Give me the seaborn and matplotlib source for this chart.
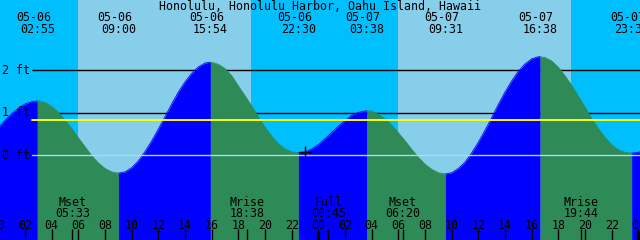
import numpy as np
import pandas as pd
import matplotlib
matplotlib.use("Agg")
import matplotlib.pyplot as plt
import matplotlib.transforms as mtransforms
import seaborn as sns

# ---------------- data ----------------
title = "Honolulu, Honolulu Harbor, Oahu Island, Hawaii"

# tide height (ft), hours since 05-06 00:00
tide_hours = [-1, -0.5, 0, 0.5, 1, 1.5, 2, 2.5, 2.917,
              3, 3.5, 4, 4.5, 5, 5.5, 6, 6.5, 7, 7.5, 8, 8.5, 9,
              9.5, 10, 10.5, 11, 11.5, 12, 12.5, 13, 13.5, 14, 14.5, 15, 15.5, 15.9,
              16, 16.5, 17, 17.5, 18, 18.5, 19, 19.5, 20, 20.5, 21, 21.5, 22, 22.5,
              23, 23.5, 24, 24.5, 25, 25.5, 26, 26.5, 27, 27.633,
              28, 28.5, 29, 29.5, 30, 30.5, 31, 31.5, 32, 32.5, 33, 33.517,
              34, 34.5, 35, 35.5, 36, 36.5, 37, 37.5, 38, 38.5, 39, 39.5, 40, 40.5, 40.633,
              41, 41.5, 42, 42.5, 43, 43.5, 44, 44.5, 45, 45.5, 46, 46.5, 47, 47.5, 48, 48.5, 49]
tide_ft = [0.33, 0.49, 0.65, 0.82, 0.98, 1.11, 1.21, 1.26, 1.28,
           1.28, 1.24, 1.15, 1.01, 0.83, 0.63, 0.41, 0.20, -0.01, -0.18, -0.31, -0.39, -0.42,
           -0.39, -0.29, -0.13, 0.09, 0.34, 0.62, 0.91, 1.21, 1.49, 1.73, 1.93, 2.08, 2.17, 2.19,
           2.19, 2.14, 2.04, 1.87, 1.63, 1.40, 1.16, 0.90, 0.66, 0.45, 0.27, 0.15, 0.08, 0.06,
           0.08, 0.15, 0.25, 0.39, 0.54, 0.69, 0.82, 0.94, 1.01, 1.05,
           1.04, 0.97, 0.86, 0.71, 0.53, 0.34, 0.14, -0.05, -0.21, -0.33, -0.41, -0.44,
           -0.41, -0.31, -0.16, 0.06, 0.31, 0.59, 0.89, 1.20, 1.49, 1.75, 1.98, 2.15, 2.27, 2.32, 2.32,
           2.30, 2.22, 2.07, 1.87, 1.64, 1.39, 1.13, 0.87, 0.63, 0.42, 0.25, 0.13, 0.07, 0.05, 0.07, 0.11, 0.20]

# high / low tide events
tide_event_hours = [2.917, 9.0, 15.9, 22.5, 27.633, 33.517, 40.633, 47.5]
tide_event_dates = ["05-06", "05-06", "05-06", "05-06", "05-07", "05-07", "05-07", "05-07"]
tide_event_times = ["02:55", "09:00", "15:54", "22:30", "03:38", "09:31", "16:38", "23:30"]

# moon events
moon_hours = [5.55, 18.633, 24.75, 30.333, 43.733]
moon_names = ["Mset", "Mrise", "Full", "Mset", "Mrise"]
moon_times = ["05:33", "18:38", "00:45", "06:20", "19:44"]

# sun
sunrise_hours = [5.97, 29.97]
sunset_hours = [18.92, 42.92]

# reference levels
ref_levels = [2, 1, 0]
ref_labels = ["2 ft", "1 ft", "0 ft"]
mean_level = 0.82

# current time marker
now_hour = 23.0
now_ft = 0.07

hour_ticks = list(range(0, 49, 2))
hour_labels = ["%02d" % (h % 24) for h in hour_ticks]
midnights = [0, 24, 48]

# ---------------- style ----------------
NIGHT = "#00BFFF"
DAY = "#87CEEB"
FLOOD = "#0000FF"
EBB = "#2E8B57"
ZERO = "#ADD8E6"

sns.set_theme(style="white")
plt.rcParams["font.family"] = ["DejaVu Sans Mono", "DejaVu Sans"]
FS = 8.4

W, H = 640, 240
fig = plt.figure(figsize=(6.4, 2.4), dpi=100)
ax = fig.add_axes([0, 0, 1, 1])
ax.set_axis_off()

px_per_hr = 13.333
x0 = -1.6
xmin = (0 - x0) / px_per_hr
xmax = (W - x0) / px_per_hr
y_zero_px = 155.3
px_per_ft = 42.5
ymax = y_zero_px / px_per_ft
ymin = (y_zero_px - H) / px_per_ft
ax.set_xlim(xmin, xmax)
ax.set_ylim(ymin, ymax)

def ay(py):
    return 1 - py / H

trans = mtransforms.blended_transform_factory(ax.transData, ax.transAxes)

# sky background
edges = [xmin - 5] + sorted(sunrise_hours + sunset_hours) + [xmax + 5]
for i, (a, b) in enumerate(zip(edges[:-1], edges[1:])):
    ax.axvspan(a, b, color=NIGHT if i % 2 == 0 else DAY, lw=0, zorder=0)

# black reference lines (behind the tide fill)
line_start = (32 - x0) / px_per_hr
for lv in ref_levels[:2]:
    ax.plot([line_start, xmax + 1], [lv, lv], color="black", lw=1.0, zorder=1,
            solid_capstyle="butt")

# tide fill coloured by rising / falling
t = np.array(tide_hours, dtype=float)
h = np.array(tide_ft, dtype=float)
bounds = [-np.inf] + tide_event_hours + [np.inf]
rows = []
seg_colors = {}
for k, (a, b) in enumerate(zip(bounds[:-1], bounds[1:])):
    m = (t >= a - 1e-6) & (t <= b + 1e-6)
    ts, hs = t[m], h[m]
    col = FLOOD if hs[-1] > hs[0] else EBB
    seg_colors[k] = col
    ax.fill_between(ts, ymin - 1, hs, color=col, lw=0, zorder=2)
    for tv, hv in zip(ts, hs):
        rows.append({"hour": tv, "ft": hv, "seg": k})
df = pd.DataFrame(rows)
sns.lineplot(data=df, x="hour", y="ft", hue="seg", palette=seg_colors,
             legend=False, lw=0.6, ax=ax, zorder=2, estimator=None, sort=False)

# zero line and mean level on top
ax.plot([line_start, xmax + 1], [0, 0], color=ZERO, lw=1.0, zorder=3)
ax.plot([line_start, xmax + 1], [mean_level, mean_level], color="#FFFF00", lw=1.4, zorder=3)

# level labels
ltrans = mtransforms.blended_transform_factory(ax.transAxes, ax.transData)
for lv, lab in zip(ref_levels, ref_labels):
    ax.text(2 / W, lv, lab, transform=ltrans, ha="left", va="center",
            fontsize=FS, color="black", zorder=5)

# now marker
sns.scatterplot(x=[now_hour], y=[now_ft], marker="+", s=70, color="black",
                linewidth=1.0, ax=ax, zorder=6, legend=False)

# title
ax.text(0.5, ay(6), title, transform=ax.transAxes, ha="center", va="center",
        fontsize=FS, color="black", zorder=5)

# tide event labels
for th, d, tm in zip(tide_event_hours, tide_event_dates, tide_event_times):
    ax.annotate(d, (th, ay(17.5)), xycoords=trans, xytext=(-2.9, 0),
                textcoords="offset points", ha="center", va="center",
                fontsize=FS, color="black", zorder=5, annotation_clip=False)
    ax.text(th, ay(29.5), tm, transform=trans, ha="center", va="center",
            fontsize=FS, color="black", zorder=5)

# moon labels
for mh, mn, mt in zip(moon_hours, moon_names, moon_times):
    ax.text(mh, ay(202.5), mn, transform=trans, ha="center", va="center",
            fontsize=FS, color="black", zorder=5)
    ax.text(mh, ay(213.5), mt, transform=trans, ha="center", va="center",
            fontsize=FS, color="black", zorder=5)

# hour labels and ticks
for hr, lab in zip(hour_ticks, hour_labels):
    ax.text(hr, ay(225.5), lab, transform=trans, ha="center", va="center",
            fontsize=FS, color="black", zorder=5)
ax.vlines(hour_ticks, ay(240), ay(229), transform=trans, color="black", lw=1.0, zorder=5)
ax.vlines(moon_hours, ay(240), ay(229), transform=trans, color="black", lw=1.0, zorder=5)
ax.vlines(midnights, ay(240), ay(232), transform=trans, color="black", lw=2.4, zorder=5)

fig.savefig("out.png", dpi=100)
